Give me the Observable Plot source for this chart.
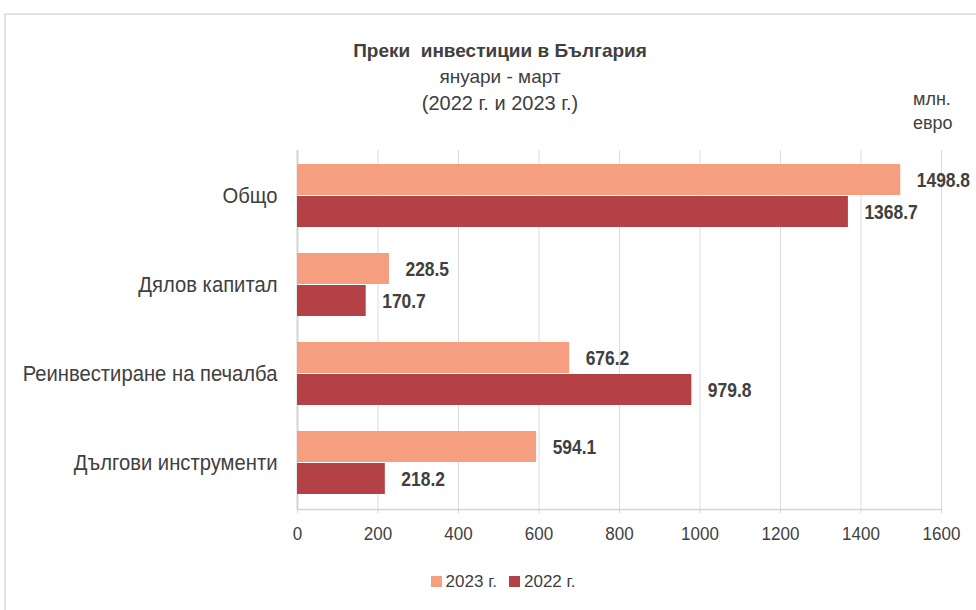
<!DOCTYPE html>
<html>
<head>
<meta charset="utf-8">
<script src="https://cdn.jsdelivr.net/npm/d3@7"></script>
<script src="https://cdn.jsdelivr.net/npm/@observablehq/plot@0.6"></script>
<style>
  html, body { margin: 0; padding: 0; background: #fff; }
  body { width: 976px; height: 610px; overflow: hidden; font-family: "Liberation Sans", Arial, sans-serif; color: #404040; }
  #wrap { position: relative; width: 976px; height: 610px; }
  #border { position: absolute; left: 4px; top: 13px; width: 1000px; height: 700px; border: 2px solid #e2e2e2; box-sizing: border-box; }
  #chart { position: absolute; left: 0; top: 0; }
  .t { position: absolute; white-space: nowrap; }
  #title { left: 0; width: 1000px; top: 40px; text-align: center; font-weight: bold; font-size: 19px; }
  #sub1 { left: 0; width: 1000px; top: 66px; text-align: center; font-size: 19px; }
  #sub2 { left: 0; width: 1000px; top: 92px; text-align: center; font-size: 20px; }
  #unit { left: 913px; top: 87px; font-size: 18px; line-height: 24px; }
  #legend { left: 0; width: 1006px; top: 572px; text-align: center; font-size: 17px; }
  .sw { display: inline-block; width: 11px; height: 11px; margin-right: 4px; vertical-align: 0px; }
  .li { display: inline-block; margin: 0 6px; }
</style>
</head>
<body>
<div id="wrap">
  <div id="border"></div>
  <div id="chart"></div>
  <div class="t" id="title">Преки&nbsp; инвестиции в България</div>
  <div class="t" id="sub1">януари - март</div>
  <div class="t" id="sub2">(2022 г. и 2023 г.)</div>
  <div class="t" id="unit">млн.<br>евро</div>
  <div class="t" id="legend"></div>
</div>
<script>
const categories = ["Общо", "Дялов капитал", "Реинвестиране на печалба", "Дългови инструменти"];
const values2023 = [1498.8, 228.5, 676.2, 594.1];
const values2022 = [1368.7, 170.7, 979.8, 218.2];
const seriesNames = ["2023 г.", "2022 г."];
const seriesColors = ["#F59E80", "#B34146"];
const xTicks = [0, 200, 400, 600, 800, 1000, 1200, 1400, 1600];

const rows2023 = categories.map((c, i) => ({cat: c, value: values2023[i]}));
const rows2022 = categories.map((c, i) => ({cat: c, value: values2022[i]}));

const font = "'Liberation Sans', Arial, sans-serif";

const chart = Plot.plot({
  width: 976,
  height: 610,
  marginTop: 150,
  marginBottom: 101,
  marginLeft: 297,
  marginRight: 35,
  style: {fontFamily: font, fontSize: "17px", color: "#404040", background: "transparent"},
  x: {domain: [0, 1600], ticks: xTicks},
  y: {domain: categories, paddingInner: 0.29, paddingOuter: 0.145},
  marks: [
    Plot.ruleX(xTicks.filter(d => d > 0), {stroke: "#dcdcdc", strokeWidth: 1}),
    Plot.ruleX([0], {stroke: "#d4d4d4", strokeWidth: 2}),
    Plot.barX(rows2023, {x: "value", y: "cat", fill: seriesColors[0], insetBottom: 32}),
    Plot.barX(rows2022, {x: "value", y: "cat", fill: seriesColors[1], insetTop: 32}),
    Plot.text(rows2023, {x: "value", y: "cat", text: d => d.value.toFixed(1), dy: -16, dx: 16, textAnchor: "start", fontWeight: "bold", fontSize: 21, fill: "#404040"}),
    Plot.text(rows2022, {x: "value", y: "cat", text: d => d.value.toFixed(1), dy: 16, dx: 16, textAnchor: "start", fontWeight: "bold", fontSize: 21, fill: "#404040"}),
    Plot.frame({anchor: "bottom", stroke: "#d4d4d4", strokeWidth: 1.5}),
    Plot.axisX({ticks: xTicks, tickSize: 4, tickPadding: 13, stroke: "#d4d4d4", fill: "#404040", fontSize: 18.5, label: null, tickFormat: d => String(d)}),
    Plot.axisY({tickSize: 0, tickPadding: 20, fill: "#404040", fontSize: 22, label: null})
  ]
});
document.getElementById("chart").appendChild(chart);

// condense chart text horizontally around each anchor (narrow font look)
const isNum = v => v != null && /^\s*-?[\d.]+(e-?\d+)?\s*$/.test(v);
function condenseEl(t, s) {
  let tr = t.getAttribute("transform") || "";
  const xa = t.getAttribute("x"), ya = t.getAttribute("y");
  let tx = 0, ty = 0;
  if (isNum(xa)) { tx = +xa; t.removeAttribute("x"); }
  if (isNum(ya)) { ty = +ya; t.removeAttribute("y"); }
  if (tx || ty) tr = `${tr} translate(${tx},${ty})`;
  t.setAttribute("transform", `${tr} scale(${s},1)`);
}
chart.querySelectorAll('g[aria-label="y-axis tick label"] text').forEach(t => condenseEl(t, 0.92));
chart.querySelectorAll('g[aria-label="x-axis tick label"] text').forEach(t => condenseEl(t, 0.92));
chart.querySelectorAll('g[font-weight="bold"] text').forEach(t => condenseEl(t, 0.83));

const legend = document.getElementById("legend");
seriesNames.forEach((name, i) => {
  const item = document.createElement("span");
  item.className = "li";
  const sw = document.createElement("span");
  sw.className = "sw";
  sw.style.background = seriesColors[i];
  item.appendChild(sw);
  item.appendChild(document.createTextNode(name));
  legend.appendChild(item);
});
</script>
</body>
</html>
